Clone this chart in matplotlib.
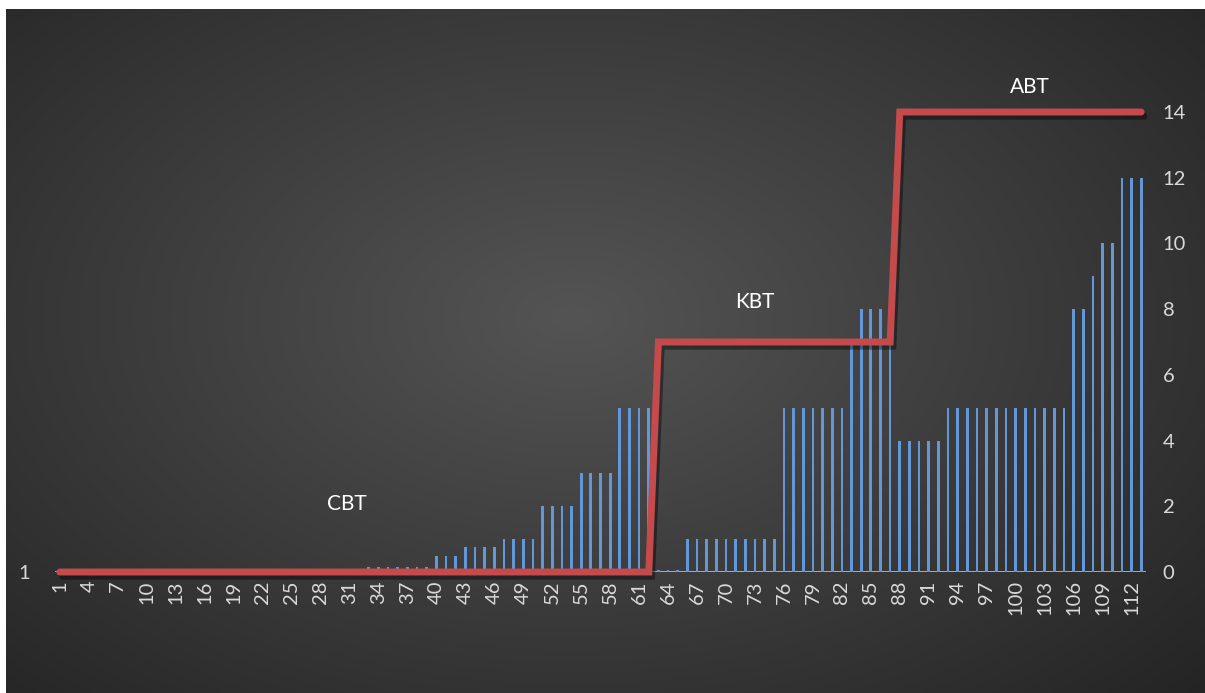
import numpy as np
import matplotlib
matplotlib.use("Agg")
import matplotlib.pyplot as plt
import matplotlib.patheffects as pe

# Data
categories = list(range(1, 114))
bar_values = ([0] * 32 + [0.15] * 7 + [0.5] * 3 + [0.75] * 4 + [1] * 4 + [2] * 4
              + [3] * 4 + [5] * 4 + [0.05] * 3 + [1] * 10 + [5] * 7 + [7] + [8] * 3
              + [7] + [4] * 5 + [5] * 13 + [8] * 2 + [9] + [10] * 2 + [12] * 3)
line_values = [0] * 62 + [7] * 25 + [14] * 26
phase_labels = ["CBT", "KBT", "ABT"]
phase_label_pos = [(30.7, 1.75), (73, 7.9), (101.5, 14.45)]
right_ticks = [0, 2, 4, 6, 8, 10, 12, 14]

W, H = 1205, 693
fig = plt.figure(figsize=(W / 100, H / 100), dpi=100, facecolor="white")

# radial gradient background
bg = fig.add_axes([6 / W, 0, 1 - 6 / W, 1 - 9 / H])
bg.set_axis_off()
yy, xx = np.mgrid[0:400, 0:700]
cx, cy = 330, 180
r = np.sqrt(((xx - cx) / 540) ** 2 + ((yy - cy) / 340) ** 2)
r = np.clip(r, 0, 1)
shade = 0.33 - 0.20 * r
bg.imshow(np.dstack([shade, shade, shade]), aspect="auto", extent=[0, 1, 0, 1])

ax = fig.add_axes([55 / W, 1 - 572 / H, (1146 - 55) / W, (572 - 112) / H])
ax.patch.set_alpha(0)
x = np.array(categories)
ax.bar(x, bar_values, width=0.28, color="#6397d8", zorder=2)
ax.axhline(0, color="#bfbfbf", lw=1.2, zorder=1)
ax.plot(x, line_values, color="#c44a4c", lw=5, solid_capstyle="round",
        solid_joinstyle="miter", zorder=3, clip_on=False,
        path_effects=[pe.SimpleLineShadow(offset=(2, -3), shadow_color="black", alpha=0.4),
                      pe.Normal()])

for lab, (px, py) in zip(phase_labels, phase_label_pos):
    ax.text(px, py, lab, color="white", fontsize=15, family="Lato",
            ha="center", va="bottom")

ax.set_xlim(0.5, 113.5)
ax.set_ylim(0, 14)
for s in ax.spines.values():
    s.set_visible(False)

ax.set_xticks(x[::3])
ax.set_xticklabels([str(c) for c in categories[::3]], rotation=90,
                   color="#d9d9d9", fontsize=14.5, family="Lato")
ax.tick_params(axis="x", length=0, pad=6)
ax.set_yticks([0])
ax.set_yticklabels(["1"], color="#d9d9d9", fontsize=14.5, family="Lato")
ax.tick_params(axis="y", length=0, pad=18)

ax2 = ax.twinx()
ax2.set_ylim(0, 14)
ax2.set_yticks(right_ticks)
ax2.set_yticklabels([str(t) for t in right_ticks], color="#d9d9d9",
                    fontsize=14.5, family="Lato")
ax2.tick_params(axis="y", length=0, pad=12)
for s in ax2.spines.values():
    s.set_visible(False)

fig.savefig("out.png", dpi=100, facecolor="white")
